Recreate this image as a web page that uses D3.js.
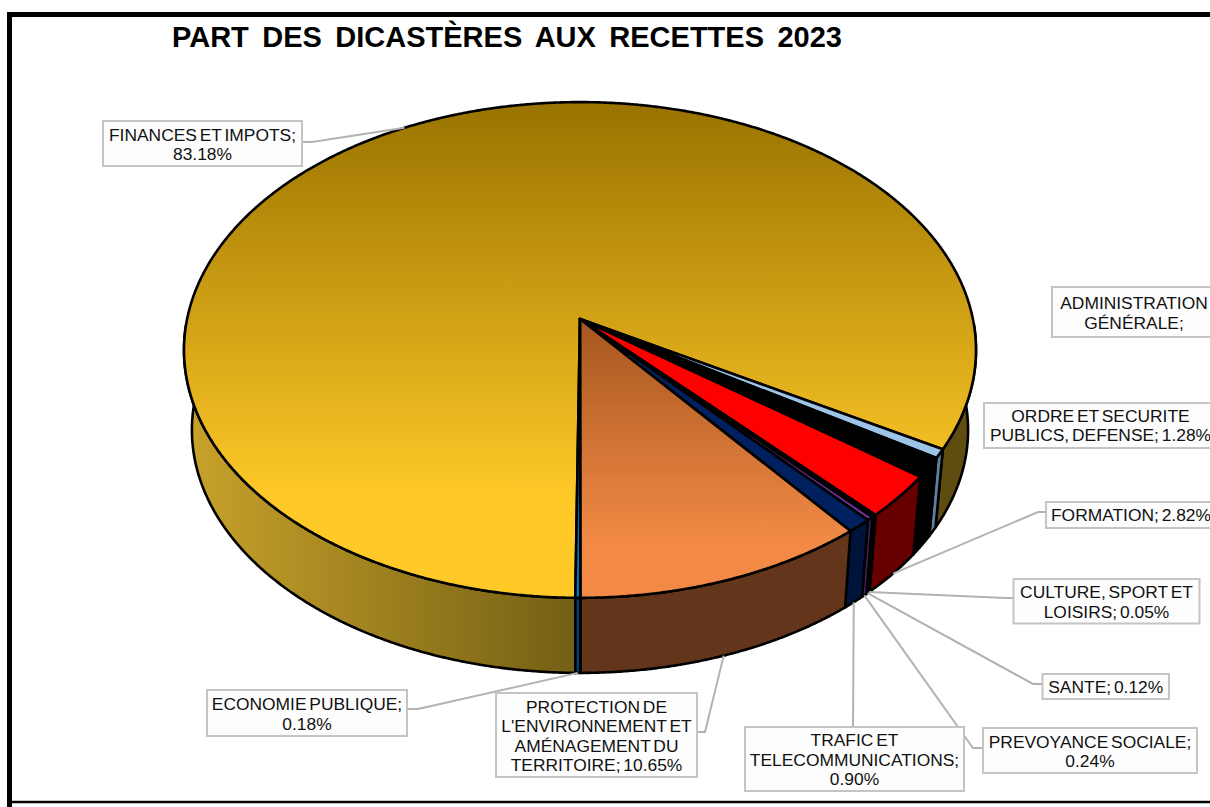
<!DOCTYPE html>
<html lang="fr"><head><meta charset="utf-8">
<script src="https://cdn.jsdelivr.net/npm/d3@7"></script>
<style>html,body{margin:0;padding:0;background:#fff;overflow:hidden}svg{display:block}
text{font-family:"Liberation Sans",Arial,sans-serif;fill:#111}</style></head><body>
<svg id="c" width="1210" height="807"></svg>
<script>
const titleText = "PART DES DICASTÈRES AUX RECETTES 2023";
const categories = ["FINANCES ET IMPOTS","ADMINISTRATION GÉNÉRALE","ORDRE ET SECURITE PUBLICS, DEFENSE","FORMATION","CULTURE, SPORT ET LOISIRS","SANTE","PREVOYANCE SOCIALE","TRAFIC ET TELECOMMUNICATIONS","PROTECTION DE L'ENVIRONNEMENT ET AMÉNAGEMENT DU TERRITOIRE","ECONOMIE PUBLIQUE"];
const values = [83.18,0.58,1.28,2.82,0.05,0.12,0.24,0.90,10.65,0.18];
const labelLines = [["FINANCES ET IMPOTS;","83.18%"],["ADMINISTRATION","GÉNÉRALE;"],["ORDRE ET SECURITE","PUBLICS, DEFENSE; 1.28%"],["FORMATION; 2.82%"],["CULTURE, SPORT ET","LOISIRS; 0.05%"],["SANTE; 0.12%"],["PREVOYANCE SOCIALE;","0.24%"],["TRAFIC ET","TELECOMMUNICATIONS;","0.90%"],["PROTECTION DE","L'ENVIRONNEMENT ET","AMÉNAGEMENT DU","TERRITOIRE; 10.65%"],["ECONOMIE PUBLIQUE;","0.18%"]];
const topColors = [["#997300","#ffc928"],["#9dc3e6","#9dc3e6"],["#000000","#000000"],["#ff0000","#ff0000"],["#000000","#000000"],["#000000","#000000"],["#7030a0","#7030a0"],["#002060","#002060"],["#a5561f","#f28a45"],["#0070c0","#0070c0"]];
const wallColors = [["#c8a22a","#735f14"],["#5f7f9f","#5f7f9f"],["#000000","#000000"],["#660000","#660000"],["#000000","#000000"],["#000000","#000000"],["#43205f","#43205f"],["#00133a","#00133a"],["#63351b","#5e321a"],["#004070","#004070"]];

// label boxes and leader bends (layout only)
const boxes = [
 {x:103,y:121,w:199,h:45,tx:202.5,bend:[[302,142],[312,142]],rim:"top"},
 {x:1052,y:287,w:200,h:50,tx:1134},
 {x:984,y:403,w:260,h:45,tx:1100.5,dy:-1},
 {x:1046,y:502,w:200,h:26,tx:1131,dy:-1,bend:[[1046,512],[1038,512]]},
 {x:1013.5,y:579,w:186,h:44.5,bend:[[1013,598],[1006,598]]},
 {x:1042.5,y:674,w:126.5,h:25,bend:[[1042,684],[1033,684]]},
 {x:983,y:728,w:214,h:45,bend:[[983,748],[973,748]]},
 {x:745,y:727,w:219,h:64,bend:[[853,727],[853,727]]},
 {x:496,y:693,w:201,h:84,bend:[[697,732],[705,732]]},
 {x:207,y:690,w:200,h:46,bend:[[407,709],[418,709]]}
];

const svg = d3.select("#c");
// perspective model of the pie
const cx=580, cy=319, a=392.9, b=244, k=0.125, vy=4350, s=0.98;
const proj = t => { const u=Math.sin(t), v=-Math.cos(t), d=1-k*v; return [cx+a*u/d, cy+b*v/d]; };
const lower = p => [cx+s*(p[0]-cx), vy+s*(p[1]-vy)];
const isOutside = p => { const dx=p[0]-cx, dy=p[1]-cy; const v=dy/(b+k*dy), u=dx*(1-k*v)/a; return u*u+v*v>1; };
const line=d3.line();
const start=180.6*Math.PI/180;
const pie=d3.pie().sort(null).startAngle(start).endAngle(start+2*Math.PI)(values);
const samples=(t0,t1)=>{const n=Math.max(2,Math.ceil((t1-t0)/0.005));return d3.range(n+1).map(i=>t0+(t1-t0)*i/n);};

const defs=svg.append("defs");
pie.forEach((d,i)=>{
  const pts=samples(d.startAngle,d.endAngle).map(proj);
  const ys=pts.map(p=>p[1]).concat(cy);
  const y0=d3.min(ys), y1=d3.max(ys);
  defs.append("linearGradient").attr("id","t"+i).attr("gradientUnits","userSpaceOnUse")
    .attr("x1",0).attr("x2",0).attr("y1",y0).attr("y2",y0+(y1-y0)*0.8)
    .selectAll("stop").data(topColors[i]).join("stop").attr("offset",(c,j)=>j).attr("stop-color",c=>c);
});
defs.append("linearGradient").attr("id","w0").attr("gradientUnits","userSpaceOnUse")
  .attr("x1",187).attr("x2",577).attr("y1",0).attr("y2",0)
  .selectAll("stop").data(wallColors[0]).join("stop").attr("offset",(c,j)=>j).attr("stop-color",c=>c);

// frame
svg.append("path").attr("d","M7,14.5H1210").attr("stroke","#000").attr("stroke-width",5);
svg.append("path").attr("d","M9.5,12V807").attr("stroke","#000").attr("stroke-width",5);
svg.append("path").attr("d","M7,802H1210").attr("stroke","#000").attr("stroke-width",2.4);

// walls
const gW=svg.append("g");
pie.forEach((d,i)=>{
  const ts=samples(d.startAngle,d.endAngle);
  let runs=[],cur=null;
  ts.forEach(t=>{const vis=isOutside(lower(proj(t)));
    if(vis){if(!cur){cur=[];runs.push(cur);}cur.push(t);}else cur=null;});
  runs.forEach(r=>{
    const top=r.map(proj), bot=r.map(t=>lower(proj(t))).reverse();
    const isRight = i===0 && Math.sin(r[0])>0.3;
    gW.append("path").attr("d",line(top.concat(bot))+"Z")
      .attr("fill", i===0 ? (isRight?"#5f4c10":"url(#w0)") : wallColors[i][0])
      .attr("stroke","#000").attr("stroke-width",2.6).attr("stroke-linejoin","round");
  });
});
// top faces
const gT=svg.append("g");
pie.forEach((d,i)=>{
  const pts=[[cx,cy]].concat(samples(d.startAngle,d.endAngle).map(proj));
  gT.append("path").attr("d",line(pts)+"Z").attr("fill",`url(#t${i})`)
    .attr("stroke","#000").attr("stroke-width",2.6).attr("stroke-linejoin","round");
});

// leaders
const gL=svg.append("g");
pie.forEach((d,i)=>{
  const bx=boxes[i]; if(!bx.bend) return;
  const p=proj((d.startAngle+d.endAngle)/2);
  const end=bx.rim==="top"?p:lower(p);
  gL.append("path").attr("d",line(bx.bend.concat([end]))).attr("fill","none").attr("stroke","#b2b2b2").attr("stroke-width",2);
});
// labels
const gB=svg.append("g");
boxes.forEach((bx,i)=>{
  gB.append("rect").attr("x",bx.x).attr("y",bx.y).attr("width",bx.w).attr("height",bx.h)
    .attr("fill","#fdfdfd").attr("stroke","#c4c4c4").attr("stroke-width",2);
  const lines=labelLines[i], lh=19.4, tx=bx.tx||bx.x+bx.w/2;
  const y0=bx.y+bx.h/2-(lines.length-1)*lh/2+6.8+(bx.dy||0);
  lines.forEach((l,j)=>gB.append("text").attr("x",tx).attr("y",y0+j*lh).attr("text-anchor","middle")
    .attr("font-size",17.4).style("word-spacing","-2px").text(l));
});
// title
svg.append("text").attr("x",172).attr("y",47).attr("font-size",29).attr("font-weight","bold").style("word-spacing","5.4px").style("fill","#000").text(titleText);
</script></body></html>
